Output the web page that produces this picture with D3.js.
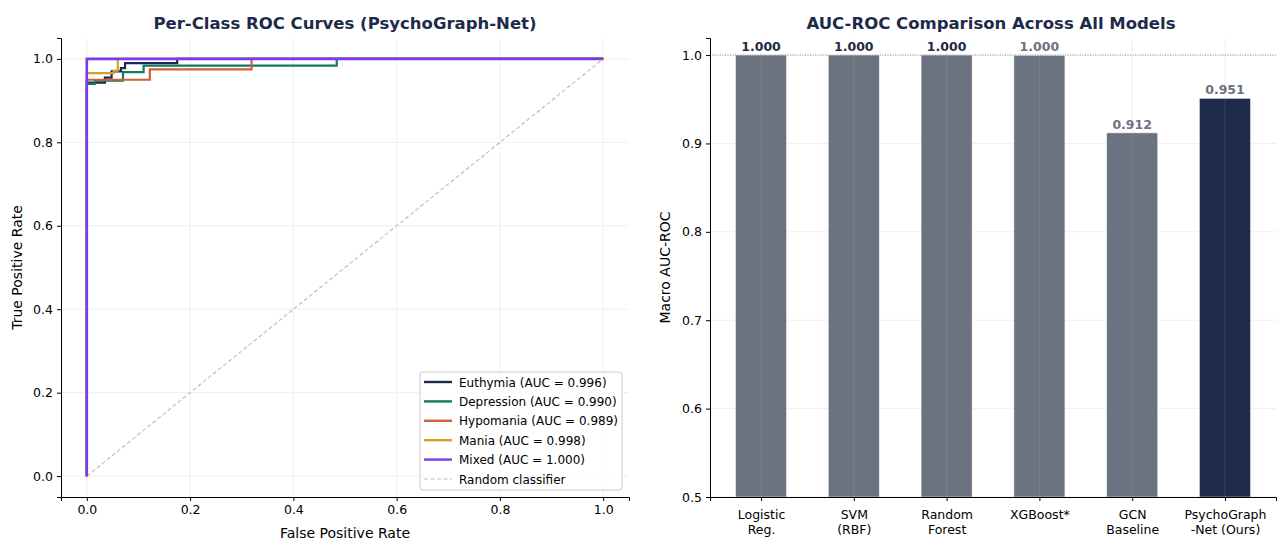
<!DOCTYPE html>
<meta charset="utf-8">
<style>
body { margin: 0; background: #fff; }
text { font-family: "DejaVu Sans", sans-serif; }
</style>
<svg width="1284" height="540"></svg>
<script src="https://cdn.jsdelivr.net/npm/d3@7"></script>
<script>

// ROC curves, [fpr, tpr] step points
var classNames = ["Euthymia", "Depression", "Hypomania", "Mania", "Mixed"];
var classAuc = [0.996, 0.990, 0.989, 0.998, 1.000];
var classColors = ["#1b2a4a", "#127a5e", "#d0603c", "#d4a02a", "#7c3aed"];
var rocEuthymia = [[0,0],[0,0.943],[0.035,0.943],[0.035,0.955],[0.048,0.955],[0.048,0.97],[0.066,0.97],[0.066,0.978],[0.074,0.978],[0.074,0.99],[0.175,0.99],[0.175,1],[1,1]];
var rocDepression = [[0,0],[0,0.94],[0.016,0.94],[0.016,0.948],[0.07,0.948],[0.07,0.968],[0.11,0.968],[0.11,0.984],[0.484,0.984],[0.484,1],[1,1]];
var rocHypomania = [[0,0],[0,0.95],[0.122,0.95],[0.122,0.975],[0.319,0.975],[0.319,1],[1,1]];
var rocMania = [[0,0],[0,0.966],[0.052,0.966],[0.052,0.972],[0.06,0.972],[0.06,1],[1,1]];
var rocMixed = [[0,0],[0,1],[1,1]];
var rocCurves = [rocEuthymia, rocDepression, rocHypomania, rocMania, rocMixed];

// AUC bars
var models = [["Logistic","Reg."],["SVM","(RBF)"],["Random","Forest"],["XGBoost*"],["GCN","Baseline"],["PsychoGraph","-Net (Ours)"]];
var modelAuc = [1.000, 1.000, 1.000, 0.9996, 0.912, 0.951];
var barColors = ["#6b7280","#6b7280","#6b7280","#6b7280","#6b7280","#1e2a4a"];
var labelColors = ["#1e2a4a","#1e2a4a","#1e2a4a","#6b7280","#6b7280","#6b7280"];
var rocTicks = [0, 0.2, 0.4, 0.6, 0.8, 1.0];
var aucTicks = [0.5, 0.6, 0.7, 0.8, 0.9, 1.0];

var svg = d3.select("svg");
var navy = "#1e2a4a";

function styleAxis(g) {
  g.selectAll("path").attr("stroke", "#000").attr("stroke-width", 1);
  g.selectAll(".tick line").attr("stroke", "#000");
  g.selectAll(".tick text").attr("font-size", 12.5).attr("fill", "#000")
    .attr("font-family", "DejaVu Sans, sans-serif");
}

// ---------- left panel ----------
var L = {left: 61, right: 629, top: 38, bottom: 497};
var x1 = d3.scaleLinear().domain([-0.05, 1.05]).range([L.left, L.right]);
var y1 = d3.scaleLinear().domain([-0.05, 1.05]).range([L.bottom, L.top]);

var g1 = svg.append("g");
g1.selectAll(".vg").data(rocTicks).enter().append("line")
    .attr("x1", d => x1(d)).attr("x2", d => x1(d))
    .attr("y1", L.top).attr("y2", L.bottom)
    .attr("stroke", "#ebebeb").attr("stroke-width", 0.8);
g1.selectAll(".hg").data(rocTicks).enter().append("line")
    .attr("x1", L.left).attr("x2", L.right)
    .attr("y1", d => y1(d)).attr("y2", d => y1(d))
    .attr("stroke", "#ebebeb").attr("stroke-width", 0.8);

var line1 = d3.line().x(d => x1(d[0])).y(d => y1(d[1]));
g1.append("path").datum([[0,0],[1,1]]).attr("d", line1)
    .attr("fill", "none").attr("stroke", "#bbbbbb").attr("stroke-width", 1.1)
    .attr("stroke-dasharray", "4,2.5");
rocCurves.forEach(function(c, i) {
  g1.append("path").datum(c).attr("d", line1)
    .attr("fill", "none").attr("stroke", classColors[i])
    .attr("stroke-width", i == 4 ? 2.6 : 2.2);
});

g1.append("g").attr("transform", "translate(0," + L.bottom + ")")
  .call(d3.axisBottom(x1).tickValues(rocTicks).tickFormat(d3.format(".1f")).tickSizeOuter(0).tickSize(4).tickPadding(4))
  .call(styleAxis);
g1.append("g").attr("transform", "translate(" + L.left + ",0)")
  .call(d3.axisLeft(y1).tickValues(rocTicks).tickFormat(d3.format(".1f")).tickSizeOuter(0).tickSize(4).tickPadding(4))
  .call(styleAxis);

g1.append("text").attr("x", (L.left + L.right) / 2).attr("y", 29).attr("text-anchor", "middle")
  .attr("font-size", 16.5).attr("font-weight", "bold").attr("fill", navy)
  .text("Per-Class ROC Curves (PsychoGraph-Net)");
g1.append("text").attr("x", (L.left + L.right) / 2).attr("y", 538).attr("text-anchor", "middle")
  .attr("font-size", 14).text("False Positive Rate");
g1.append("text").attr("transform", "translate(22," + (L.top + L.bottom) / 2 + ") rotate(-90)")
  .attr("text-anchor", "middle").attr("font-size", 14).text("True Positive Rate");

// legend
var leg = g1.append("g").attr("transform", "translate(420,372)");
leg.append("rect").attr("width", 202).attr("height", 118).attr("rx", 3)
  .attr("fill", "#fff").attr("fill-opacity", 0.8).attr("stroke", "#cccccc");
var legItems = classNames.map((n, i) => ({label: n + " (AUC = " + classAuc[i].toFixed(3) + ")", color: classColors[i], dash: null}))
  .concat([{label: "Random classifier", color: "#bbbbbb", dash: "4,2.5"}]);
legItems.forEach(function(d, i) {
  var yy = 10 + i * 19.4;
  leg.append("line").attr("x1", 4).attr("x2", 32).attr("y1", yy).attr("y2", yy)
    .attr("stroke", d.color).attr("stroke-width", d.dash ? 1.1 : 2.4)
    .attr("stroke-dasharray", d.dash);
  leg.append("text").attr("x", 39).attr("y", yy + 4.5).attr("font-size", 12).text(d.label);
});

// ---------- right panel ----------
var R = {left: 710, right: 1276, top: 38, bottom: 497};
var idx = d3.range(models.length);
var x2 = d3.scaleLinear().domain([-0.55, models.length - 0.45]).range([R.left, R.right]);
var y2 = d3.scaleLinear().domain([0.5, 1.0193]).range([R.bottom, R.top]);
var bw = x2(0.55) - x2(0);

var g2 = svg.append("g");
g2.selectAll(".hg").data(aucTicks).enter().append("line")
    .attr("x1", R.left).attr("x2", R.right)
    .attr("y1", d => y2(d)).attr("y2", d => y2(d))
    .attr("stroke", "#ebebeb").attr("stroke-width", 0.8);

g2.selectAll(".bar").data(idx).enter().append("rect")
    .attr("x", i => x2(i) - bw / 2).attr("width", bw)
    .attr("y", i => y2(modelAuc[i])).attr("height", i => y2(0.5) - y2(modelAuc[i]))
    .attr("fill", i => barColors[i]).attr("stroke", "#ffffff").attr("stroke-opacity", 0.6)
    .attr("stroke-width", 0.8);

g2.selectAll(".vg").data(idx).enter().append("line")
    .attr("x1", i => x2(i)).attr("x2", i => x2(i))
    .attr("y1", R.top).attr("y2", R.bottom)
    .attr("stroke", "#b0b0b0").attr("stroke-opacity", 0.25).attr("stroke-width", 0.8);

g2.append("line").attr("x1", R.left).attr("x2", R.right)
  .attr("y1", y2(1.0)).attr("y2", y2(1.0))
  .attr("stroke", "#888").attr("stroke-width", 0.9).attr("stroke-dasharray", "1,1.5");

g2.selectAll(".val").data(idx).enter().append("text")
    .attr("x", i => x2(i)).attr("y", i => y2(modelAuc[i]) - 4)
    .attr("text-anchor", "middle").attr("font-size", 12.5).attr("font-weight", "bold")
    .attr("fill", i => labelColors[i]).text(i => modelAuc[i].toFixed(3));

var ax2 = g2.append("g").attr("transform", "translate(0," + R.bottom + ")")
  .call(d3.axisBottom(x2).tickValues(idx).tickFormat("").tickSizeOuter(0).tickSize(4))
  .call(styleAxis);
ax2.selectAll(".tick").append("text").attr("fill", "#000").attr("font-size", 12.5)
  .attr("text-anchor", "middle")
  .selectAll("tspan").data(i => models[i]).enter().append("tspan")
    .attr("x", 0).attr("y", (d, j) => 22 + j * 15).text(d => d);

g2.append("g").attr("transform", "translate(" + R.left + ",0)")
  .call(d3.axisLeft(y2).tickValues(aucTicks).tickFormat(d3.format(".1f")).tickSizeOuter(0).tickSize(4).tickPadding(4))
  .call(styleAxis);

g2.append("text").attr("x", (R.left + R.right) / 2 - 2).attr("y", 29).attr("text-anchor", "middle")
  .attr("font-size", 16.5).attr("font-weight", "bold").attr("fill", navy)
  .text("AUC-ROC Comparison Across All Models");
g2.append("text").attr("transform", "translate(670," + (R.top + R.bottom) / 2 + ") rotate(-90)")
  .attr("text-anchor", "middle").attr("font-size", 14).text("Macro AUC-ROC");

</script>
